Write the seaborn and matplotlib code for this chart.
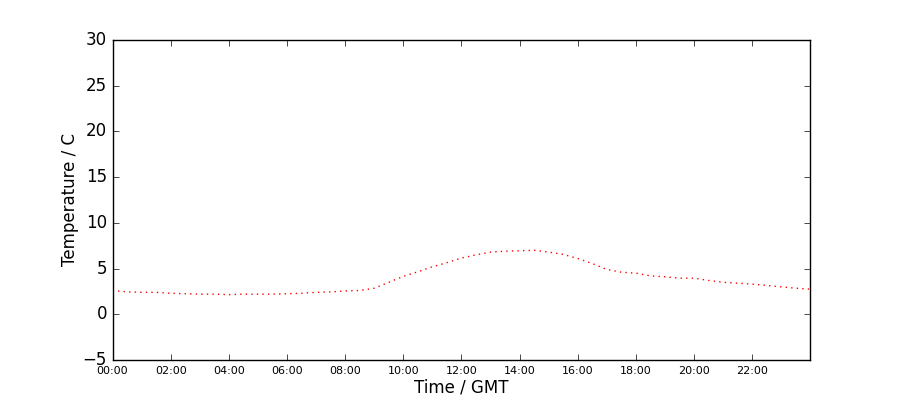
import pandas as pd  # Data handling
import matplotlib
matplotlib.use("Agg")
import matplotlib.pyplot as plt  # Plotting
import matplotlib.dates as mdates  # Date formatting on the x axis
import seaborn as sns  # Line drawing

# Readings every half hour, plus the last one just before midnight
times = ["00:00", "00:30", "01:00", "01:30", "02:00", "02:30", "03:00", "03:30",
         "04:00", "04:30", "05:00", "05:30", "06:00", "06:30", "07:00", "07:30",
         "08:00", "08:30", "09:00", "09:30", "10:00", "10:30", "11:00", "11:30",
         "12:00", "12:30", "13:00", "13:30", "14:00", "14:30", "15:00", "15:30",
         "16:00", "16:30", "17:00", "17:30", "18:00", "18:30", "19:00", "19:30",
         "20:00", "20:30", "21:00", "21:30", "22:00", "22:30", "23:00", "23:30",
         "23:59"]
temps = [2.6, 2.45, 2.4, 2.4, 2.3, 2.25, 2.2, 2.2,
         2.15, 2.2, 2.2, 2.2, 2.25, 2.3, 2.4, 2.45,
         2.55, 2.6, 2.85, 3.5, 4.15, 4.65, 5.2, 5.65,
         6.15, 6.5, 6.8, 6.9, 6.95, 7.0, 6.8, 6.55,
         6.1, 5.55, 4.9, 4.6, 4.5, 4.2, 4.1, 3.95,
         3.95, 3.7, 3.5, 3.4, 3.3, 3.15, 3.0, 2.85,
         2.75]

# Old-school matplotlib look
plt.style.use("classic")

data = pd.DataFrame({
    "Time": pd.to_datetime(["2015-01-01 " + t for t in times]),
    "Temp": temps,
})

fig, ax = plt.subplots(figsize=(9, 4), dpi=100)
fig.patch.set_facecolor("white")
fig.subplots_adjust(left=0.125, right=0.9, bottom=0.1, top=0.9)

sns.lineplot(data=data, x="Time", y="Temp", color="red", linestyle=":", linewidth=1, ax=ax)

ax.set_xlim(data["Time"].iloc[0], data["Time"].iloc[-1])
ax.set_ylim(-5, 30)
ax.xaxis.set_major_locator(mdates.HourLocator(interval=2))
ax.xaxis.set_major_formatter(mdates.DateFormatter("%H:%M"))
ax.tick_params(axis="x", labelsize=8)
ax.tick_params(axis="y", labelsize=12)
ax.set_xlabel("Time / GMT", fontsize=12, labelpad=2)
ax.set_ylabel("Temperature / C", fontsize=12, labelpad=2.5)

fig.savefig("out.png", dpi=100, facecolor="white")
